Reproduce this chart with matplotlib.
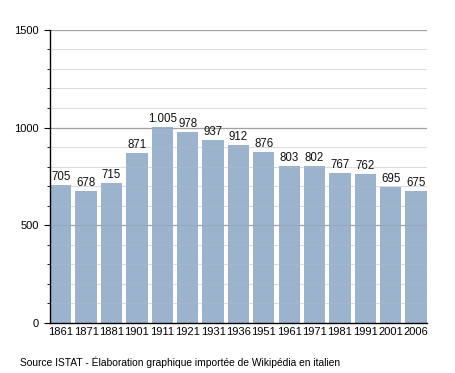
import matplotlib
matplotlib.use("Agg")
import matplotlib.pyplot as plt
from matplotlib.ticker import MultipleLocator

plt.rcParams["font.family"] = ["Liberation Sans", "DejaVu Sans"]

years = ["1861", "1871", "1881", "1901", "1911", "1921", "1931", "1936",
         "1951", "1961", "1971", "1981", "1991", "2001", "2006"]
population = [705, 678, 715, 871, 1005, 978, 937, 912, 876, 803, 802, 767, 762, 695, 675]
value_labels = ["705", "678", "715", "871", "1.005", "978", "937", "912",
                "876", "803", "802", "767", "762", "695", "675"]

fig = plt.figure(figsize=(4.55, 3.73), dpi=100)
ax = fig.add_axes([0.110, 0.134, 0.828, 0.786])

x = range(len(years))
bw = 0.84
ax.bar(x, population, width=bw, color="#9bb3cd", zorder=1)

# grid: behind bars, plus a faint trace over them
for v in range(100, 1600, 100):
    if v % 500 == 0:
        ax.axhline(v, color="#ababab", lw=0.9, zorder=0)
        ax.axhline(v, color="#7f7f7f", lw=0.8, alpha=0.2, zorder=2)
    else:
        ax.axhline(v, color="#e2e2e2", lw=0.8, zorder=0)
        ax.axhline(v, color="#c8c8c8", lw=0.6, alpha=0.2, zorder=2)

for i, (v, lab) in enumerate(zip(population, value_labels)):
    ax.text(i, v + 10, lab, ha="center", va="bottom", fontsize=8.3, color="#111111")

ax.set_xlim(-bw / 2, len(years) - 1 + bw / 2)
ax.set_ylim(0, 1500)
ax.set_xticks(list(x))
ax.set_xticklabels(years, fontsize=8)
ax.tick_params(axis="x", length=0, pad=3)
ax.yaxis.set_major_locator(MultipleLocator(500))
ax.yaxis.set_minor_locator(MultipleLocator(100))
ax.tick_params(axis="y", which="major", length=4, labelsize=8, pad=4)
ax.tick_params(axis="y", which="minor", length=2)
for s in ("top", "right"):
    ax.spines[s].set_visible(False)
ax.spines["left"].set_linewidth(1.0)
ax.spines["bottom"].set_linewidth(1.0)

fig.text(20 / 455, 1 - 362 / 373, "Source ISTAT - Élaboration graphique importée de Wikipédia en italien",
         fontsize=7.4, va="center", ha="left")

fig.savefig("out.png", dpi=100)
